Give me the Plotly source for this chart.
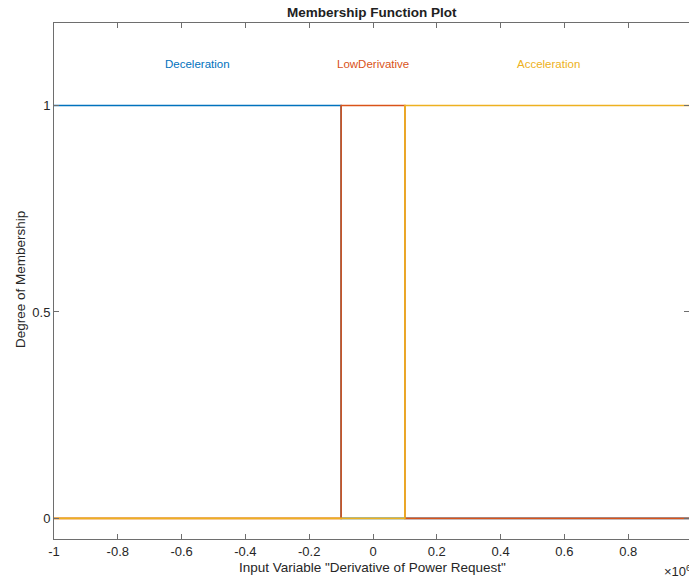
import plotly.graph_objects as go

# Data (x in units of 1e6)
decel_x = [-1, -0.1, -0.1, 1]
decel_y = [1, 1, 0, 0]
low_x = [-1, -0.1, -0.1, 0.1, 0.1, 1]
low_y = [0, 0, 1, 1, 0, 0]
acc_x = [-1, 0.1, 0.1, 1]
acc_y = [0, 0, 1, 1]

mf_names = ["Deceleration", "LowDerivative", "Acceleration"]
mf_label_x = [-0.55, 0.0, 0.55]
mf_label_y = 1.1
colors = ["#0072BD", "#D95319", "#EDB120"]

x_ticks = [-1, -0.8, -0.6, -0.4, -0.2, 0, 0.2, 0.4, 0.6, 0.8]
x_tick_text = ["-1", "-0.8", "-0.6", "-0.4", "-0.2", "0", "0.2", "0.4", "0.6", "0.8"]
y_ticks = [0, 0.5, 1]
y_tick_text = ["0", "0.5", "1"]

FONT = "Liberation Sans, Arial, sans-serif"
AX = "#6e6e6e"
TXT = "#262626"

W, H = 689, 578
L, R, T, B = 54, 0, 23, 39
PW, PH = W - L - R, H - T - B

def px(xp):
    return (xp - L) / PW

def py(yp):
    return (H - B - yp) / PH

fig = go.Figure()
for xs, ys, name, c in zip([decel_x, low_x, acc_x], [decel_y, low_y, acc_y], mf_names, colors):
    fig.add_trace(go.Scatter(x=xs, y=ys, mode="lines", name=name,
                             line=dict(color=c, width=1.6), showlegend=False,
                             hoverinfo="skip"))

for name, lx, c in zip(mf_names, mf_label_x, colors):
    fig.add_annotation(x=lx, y=mf_label_y, text=name, showarrow=False,
                       xref="x", yref="y", font=dict(family=FONT, size=11.5, color=c))

# exponent label
fig.add_annotation(text="×10<sup>6</sup>", xref="paper", yref="paper",
                   x=px(662), y=py(571), xanchor="left", yanchor="middle",
                   showarrow=False, font=dict(family=FONT, size=13, color=TXT))
# axis titles
fig.add_annotation(text='Input Variable "Derivative of Power Request"', xref="paper", yref="paper",
                   x=px(373), y=py(567), xanchor="center", yanchor="middle",
                   showarrow=False, font=dict(family=FONT, size=13.5, color=TXT))
fig.add_annotation(text="Degree of Membership", xref="paper", yref="paper",
                   x=px(20), y=py(280), xanchor="center", yanchor="middle", textangle=-90,
                   showarrow=False, font=dict(family=FONT, size=13.5, color=TXT))
# title
fig.add_annotation(text="<b>Membership Function Plot</b>", xref="paper", yref="paper",
                   x=px(372), y=py(13), xanchor="center", yanchor="middle",
                   showarrow=False, font=dict(family=FONT, size=13.5, color="#212121"))

fig.update_layout(
    width=W, height=H,
    margin=dict(l=L, r=R, t=T, b=B, autoexpand=False),
    plot_bgcolor="white", paper_bgcolor="white",
    xaxis=dict(range=[-1, 0.9906], tickmode="array", tickvals=x_ticks, ticktext=x_tick_text,
               showgrid=False, zeroline=False, showline=True, linecolor=AX, linewidth=1,
               mirror="ticks", ticks="inside", ticklen=5, tickcolor=AX, automargin=False,
               tickfont=dict(family=FONT, size=13, color=TXT)),
    yaxis=dict(range=[-0.05, 1.2], tickmode="array", tickvals=y_ticks, ticktext=y_tick_text,
               showgrid=False, zeroline=False, showline=True, linecolor=AX, linewidth=1,
               mirror="ticks", ticks="inside", ticklen=5, tickcolor=AX, automargin=False,
               tickfont=dict(family=FONT, size=13, color=TXT)),
)

fig.write_html("out.html", config={"displayModeBar": False},
               post_script="document.body.style.margin='0';document.body.style.overflow='hidden';")
